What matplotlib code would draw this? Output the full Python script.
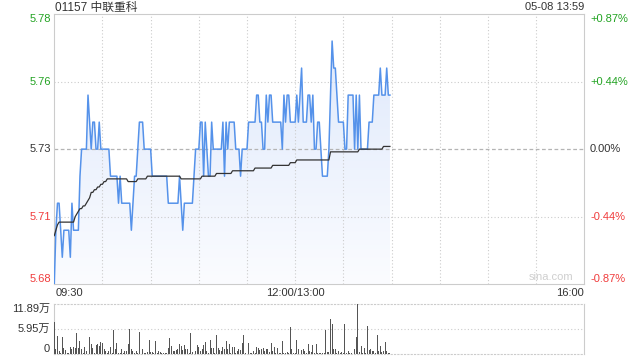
import numpy as np
import matplotlib.pyplot as plt
from matplotlib.colors import LinearSegmentedColormap
from matplotlib.patches import Polygon

plt.rcParams['font.family'] = ['Liberation Sans', 'Noto Sans CJK SC']

title = '01157 中联重科'
stamp = '05-08 13:59'
prev_close = 5.73

# one value per trading minute from 09:30
price = [
    5.68, 5.70, 5.71, 5.71, 5.70, 5.69, 5.70, 5.70, 5.70, 5.70,
    5.69, 5.71, 5.70, 5.70, 5.70, 5.70, 5.72, 5.73, 5.73, 5.73,
    5.73, 5.75, 5.74, 5.73, 5.74, 5.74, 5.73, 5.73, 5.74, 5.73,
    5.73, 5.73, 5.73, 5.73, 5.73, 5.72, 5.72, 5.72, 5.72, 5.72,
    5.71, 5.72, 5.71, 5.71, 5.71, 5.71, 5.71, 5.71, 5.70, 5.71,
    5.72, 5.72, 5.73, 5.74, 5.74, 5.74, 5.73, 5.73, 5.73, 5.73,
    5.73, 5.72, 5.72, 5.72, 5.72, 5.72, 5.72, 5.72, 5.72, 5.72,
    5.72, 5.71, 5.71, 5.71, 5.71, 5.71, 5.71, 5.71, 5.72, 5.71,
    5.70, 5.71, 5.71, 5.71, 5.71, 5.71, 5.71, 5.72, 5.73, 5.73,
    5.73, 5.74, 5.74, 5.72, 5.74, 5.73, 5.72, 5.72, 5.74, 5.73,
    5.73, 5.73, 5.73, 5.73, 5.73, 5.74, 5.72, 5.74, 5.73, 5.74,
    5.74, 5.74, 5.74, 5.73, 5.73, 5.73, 5.72, 5.73, 5.73, 5.73,
    5.73, 5.74, 5.74, 5.74, 5.74, 5.74, 5.75, 5.75, 5.74, 5.74,
    5.73, 5.73, 5.75, 5.74, 5.75, 5.75, 5.74, 5.74, 5.74, 5.74,
    5.74, 5.74, 5.73, 5.75, 5.74, 5.75, 5.75, 5.74, 5.74, 5.74,
    5.74, 5.75, 5.74, 5.75, 5.76, 5.74, 5.74, 5.74, 5.75, 5.75,
    5.74, 5.75, 5.73, 5.73, 5.74, 5.74, 5.73, 5.72, 5.72, 5.72,
    5.72, 5.73, 5.75, 5.77, 5.76, 5.76, 5.75, 5.74, 5.74, 5.74,
    5.74, 5.73, 5.73, 5.75, 5.75, 5.75, 5.75, 5.73, 5.75, 5.73,
    5.75, 5.73, 5.73, 5.73, 5.73, 5.73, 5.74, 5.74, 5.74, 5.75,
    5.75, 5.75, 5.75, 5.76, 5.75, 5.75, 5.75, 5.76, 5.75, 5.75,
]

avg_price = [
    5.698, 5.700, 5.702, 5.703, 5.703, 5.703, 5.703, 5.703, 5.703, 5.703,
    5.703, 5.703, 5.703, 5.705, 5.706, 5.707, 5.708, 5.708, 5.709, 5.709,
    5.710, 5.711, 5.712, 5.714, 5.714, 5.715, 5.715, 5.716, 5.716, 5.717,
    5.717, 5.718, 5.718, 5.719, 5.719, 5.719, 5.719, 5.719, 5.719, 5.719,
    5.719, 5.719, 5.719, 5.719, 5.719, 5.719, 5.718, 5.718, 5.718, 5.718,
    5.718, 5.718, 5.719, 5.719, 5.719, 5.719, 5.719, 5.719, 5.720, 5.720,
    5.720, 5.720, 5.720, 5.720, 5.720, 5.720, 5.720, 5.720, 5.720, 5.720,
    5.720, 5.720, 5.720, 5.720, 5.720, 5.720, 5.720, 5.720, 5.720, 5.719,
    5.719, 5.719, 5.719, 5.719, 5.719, 5.719, 5.719, 5.719, 5.719, 5.719,
    5.719, 5.719, 5.720, 5.720, 5.720, 5.720, 5.720, 5.720, 5.720, 5.720,
    5.720, 5.721, 5.721, 5.721, 5.721, 5.721, 5.721, 5.721, 5.721, 5.721,
    5.721, 5.722, 5.722, 5.722, 5.722, 5.722, 5.722, 5.722, 5.722, 5.722,
    5.722, 5.722, 5.722, 5.722, 5.722, 5.723, 5.723, 5.723, 5.723, 5.723,
    5.723, 5.723, 5.723, 5.723, 5.723, 5.723, 5.724, 5.724, 5.724, 5.724,
    5.724, 5.724, 5.724, 5.724, 5.724, 5.724, 5.724, 5.725, 5.725, 5.725,
    5.725, 5.726, 5.726, 5.726, 5.726, 5.726, 5.726, 5.726, 5.726, 5.726,
    5.726, 5.726, 5.726, 5.726, 5.726, 5.726, 5.726, 5.726, 5.726, 5.726,
    5.726, 5.726, 5.729, 5.729, 5.729, 5.729, 5.729, 5.729, 5.729, 5.729,
    5.729, 5.729, 5.729, 5.729, 5.729, 5.729, 5.729, 5.729, 5.729, 5.729,
    5.730, 5.730, 5.730, 5.730, 5.730, 5.730, 5.730, 5.730, 5.730, 5.730,
    5.730, 5.730, 5.730, 5.730, 5.730, 5.731, 5.731, 5.731, 5.731, 5.731,
]

# volume in 万 shares
volume = [
    7.6, 1.2, 4.3, 0.8, 0.3, 4.1, 1.6, 1.0, 0.2, 0.3,
    1.8, 1.3, 1.7, 1.6, 5.0, 1.6, 3.1, 1.3, 0.4, 1.7,
    0.8, 1.2, 4.1, 2.4, 1.4, 0.4, 2.2, 2.4, 2.0, 2.9,
    2.7, 1.2, 0.8, 0.4, 0.8, 1.8, 0.3, 5.7, 1.2, 2.6,
    0.4, 0.2, 1.2, 0.3, 0.9, 0.8, 2.4, 6.1, 1.3, 0.8,
    0.4, 0.9, 0.3, 5.2, 1.0, 1.2, 0.4, 0.2, 0.5, 3.3,
    0.5, 0.5, 0.3, 3.1, 0.4, 0.8, 0.5, 0.2, 0.2, 0.2,
    0.3, 1.6, 3.8, 2.0, 0.9, 0.8, 1.0, 1.2, 2.4, 2.0,
    1.0, 2.1, 1.2, 1.2, 0.3, 5.0, 0.5, 1.8, 0.8, 2.2,
    1.7, 0.8, 1.3, 2.1, 2.9, 0.8, 0.3, 3.3, 1.4, 1.4,
    0.3, 4.7, 1.4, 1.0, 0.8, 1.7, 1.2, 3.1, 1.2, 2.5,
    0.3, 1.8, 1.8, 0.2, 0.9, 1.2, 1.0, 2.8, 4.7, 0.2,
    0.2, 2.6, 0.4, 0.2, 0.8, 0.3, 1.8, 1.4, 1.0, 1.2,
    1.4, 0.8, 1.2, 1.2, 0.5, 2.6, 0.8, 1.7, 0.4, 1.4,
    0.3, 0.2, 3.1, 0.4, 0.4, 0.5, 0.3, 6.4, 1.3, 0.4,
    0.3, 3.3, 1.2, 3.1, 1.0, 1.2, 0.9, 0.4, 2.4, 0.9,
    0.5, 2.1, 0.4, 2.4, 0.4, 0.2, 0.2, 0.2, 0.3, 5.7,
    0.6, 0.5, 8.5, 7.3, 1.2, 1.2, 0.2, 0.8, 0.2, 0.5,
    0.3, 7.1, 0.4, 0.8, 0.2, 0.4, 0.2, 1.3, 4.1, 11.89,
    0.5, 2.0, 0.4, 1.6, 0.4, 6.8, 1.0, 1.2, 0.8, 0.8,
    0.3, 4.5, 0.8, 2.0, 0.5, 0.8, 3.0, 0.8, 0.4, 0.2,
]

price_labels = ['5.78', '5.76', '5.73', '5.71', '5.68']
pct_labels = ['+0.87%', '+0.44%', '0.00%', '-0.44%', '-0.87%']
label_colors = ['#22a322', '#22a322', '#333333', '#f03c3c', '#f03c3c']
time_labels = ['09:30', '12:00/13:00', '16:00']
vol_max = 11.89
vol_labels = ['11.89万', '5.95万', '0']

total_minutes = 330
minutes = np.arange(len(price))
lo, hi = prev_close - 0.05, prev_close + 0.05
grid_c = '#cccccc'

fig = plt.figure(figsize=(6.4, 3.6), dpi=100)
ax = fig.add_axes([0.0848, 0.2103, 0.8281, 0.7508])
axv = fig.add_axes([0.0848, 0.0158, 0.8281, 0.1389])

# gradient fill under the price line
cmap = LinearSegmentedColormap.from_list('fill', ['#fbfcff', '#dce7fb'])
grad = np.linspace(0, 1, 256).reshape(-1, 1)
im = ax.imshow(grad, aspect='auto', cmap=cmap, origin='lower',
               extent=[0, total_minutes, lo, hi], zorder=1)
verts = np.column_stack([np.r_[minutes, minutes[-1], 0],
                         np.r_[price, lo, lo]])
patch = Polygon(verts, closed=True, facecolor='none', edgecolor='none')
ax.add_patch(patch)
im.set_clip_path(patch)

for t in range(30, total_minutes, 30):
    ax.axvline(t, color=grid_c, lw=0.8, ls=(0, (1, 2)), zorder=2)
ticks = np.linspace(hi, lo, 5)
for v in ticks[[1, 3]]:
    ax.axhline(v, color=grid_c, lw=0.8, ls=(0, (1, 2)), zorder=2)
ax.axhline(prev_close, color='#b4b4b4', lw=0.9, ls=(0, (3, 2)), zorder=2)

ax.plot(minutes, price, color='#5592ea', lw=1.1, zorder=4)
ax.plot(minutes, avg_price, color='#333333', lw=0.9, zorder=5)

ax.set_xlim(0, total_minutes)
ax.set_ylim(lo, hi)
ax.set_xticks([])
ax.set_yticks([])
for s in ax.spines.values():
    s.set_color(grid_c)

ytr = ax.get_yaxis_transform()
for i, v in enumerate(ticks):
    va = 'top' if i == 0 else ('bottom' if i == 4 else 'center')
    ax.text(-0.006, v, price_labels[i], transform=ytr, ha='right', va=va,
            fontsize=8, color=label_colors[i])
    ax.text(1.011, v, pct_labels[i], transform=ytr, ha='left', va=va,
            fontsize=8, color=label_colors[i])

ax.text(0.002, -0.033, time_labels[0], transform=ax.transAxes, ha='left',
        va='center', fontsize=8, color='#333333')
ax.text(150 / total_minutes, -0.033, time_labels[1], transform=ax.transAxes,
        ha='center', va='center', fontsize=8, color='#333333')
ax.text(1.0, -0.033, time_labels[2], transform=ax.transAxes, ha='right',
        va='center', fontsize=8, color='#333333')
ax.text(0.979, 0.008, 'sina.com', transform=ax.transAxes, ha='right',
        va='bottom', fontsize=8, color='#cfcfcf')

fig.text(55 / 640, 1 - 7.5 / 360, title, ha='left', va='center',
         fontsize=8.5, color='#333333')
fig.text(584 / 640, 1 - 7.5 / 360, stamp, ha='right', va='center',
         fontsize=8, color='#333333')

# volume panel
axv.bar(minutes, volume, width=0.6, color='#555555', zorder=3)
axv.axhline(vol_max / 2, color=grid_c, lw=0.8, ls=(0, (1, 2)))
axv.set_xlim(0, total_minutes)
axv.set_ylim(0, vol_max)
axv.set_xticks([])
axv.set_yticks([])
for name, s in axv.spines.items():
    s.set_color(grid_c)
    if name in ('top', 'bottom'):
        s.set_linestyle((0, (1, 2)))
vtr = axv.get_yaxis_transform()
for v, lab, va in zip([vol_max, vol_max / 2, 0], vol_labels,
                      ['top', 'center', 'bottom']):
    axv.text(-0.008, v, lab, transform=vtr, ha='right', va=va,
             fontsize=8, color='#333333')

fig.savefig('out.png', dpi=100)
